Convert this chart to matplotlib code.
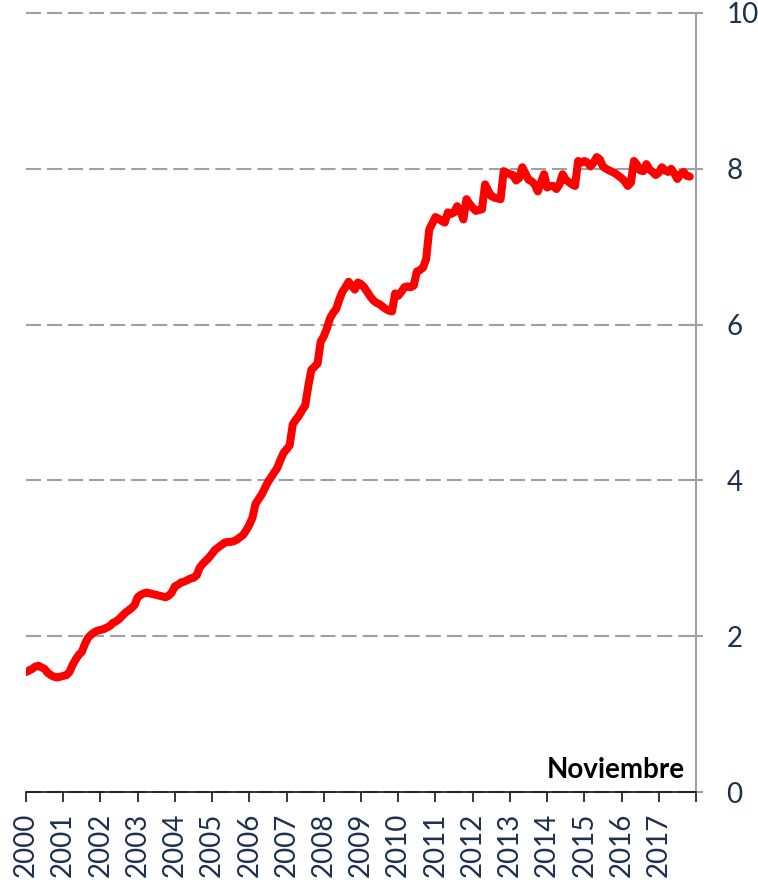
import matplotlib
matplotlib.use('Agg')
import matplotlib.pyplot as plt
import numpy as np

plt.rcParams['font.family'] = ['Lato', 'DejaVu Sans']

# monthly values, Jan 2000 - Nov 2017
v2000 = [1.54, 1.56, 1.58, 1.61, 1.62, 1.60, 1.58, 1.53, 1.50, 1.48, 1.47, 1.48]
v2001 = [1.49, 1.50, 1.54, 1.63, 1.70, 1.76, 1.80, 1.90, 1.98, 2.02, 2.05, 2.07]
v2002 = [2.08, 2.09, 2.11, 2.13, 2.17, 2.19, 2.22, 2.26, 2.30, 2.33, 2.36, 2.40]
v2003 = [2.50, 2.53, 2.55, 2.56, 2.55, 2.54, 2.53, 2.52, 2.51, 2.50, 2.52, 2.56]
v2004 = [2.64, 2.66, 2.69, 2.70, 2.72, 2.74, 2.75, 2.78, 2.88, 2.93, 2.97, 3.01]
v2005 = [3.06, 3.11, 3.14, 3.17, 3.20, 3.21, 3.21, 3.22, 3.24, 3.27, 3.30, 3.36]
v2006 = [3.43, 3.52, 3.70, 3.76, 3.82, 3.90, 3.98, 4.04, 4.10, 4.16, 4.26, 4.35]
v2007 = [4.40, 4.45, 4.72, 4.78, 4.83, 4.90, 4.96, 5.21, 5.42, 5.46, 5.50, 5.78]
v2008 = [5.85, 5.95, 6.08, 6.15, 6.20, 6.32, 6.42, 6.48, 6.55, 6.50, 6.45, 6.54]
v2009 = [6.52, 6.48, 6.42, 6.36, 6.31, 6.28, 6.26, 6.23, 6.20, 6.18, 6.17, 6.40]
v2010 = [6.37, 6.42, 6.48, 6.49, 6.48, 6.50, 6.68, 6.70, 6.73, 6.84, 7.22, 7.30]
v2011 = [7.38, 7.36, 7.33, 7.31, 7.44, 7.42, 7.44, 7.52, 7.46, 7.35, 7.61, 7.55]
v2012 = [7.50, 7.46, 7.47, 7.48, 7.80, 7.72, 7.65, 7.63, 7.62, 7.61, 7.97, 7.95]
v2013 = [7.93, 7.92, 7.85, 7.88, 8.02, 7.94, 7.86, 7.84, 7.80, 7.71, 7.82, 7.93]
v2014 = [7.76, 7.78, 7.78, 7.74, 7.80, 7.93, 7.86, 7.83, 7.80, 7.78, 8.10, 8.08]
v2015 = [8.10, 8.08, 8.03, 8.08, 8.15, 8.12, 8.03, 8.00, 7.98, 7.96, 7.94, 7.91]
v2016 = [7.88, 7.84, 7.78, 7.82, 8.10, 8.05, 7.98, 7.97, 8.06, 7.99, 7.96, 7.92]
v2017 = [7.95, 8.02, 7.98, 7.96, 8.00, 7.94, 7.87, 7.93, 7.96, 7.91, 7.90]

values = (v2000 + v2001 + v2002 + v2003 + v2004 + v2005 + v2006 + v2007 + v2008
          + v2009 + v2010 + v2011 + v2012 + v2013 + v2014 + v2015 + v2016 + v2017)
months = np.arange(len(values))

years = [str(y) for y in range(2000, 2018)]
y_ticks = [0, 2, 4, 6, 8, 10]

navy = '#1F2F4F'
grey = '#A0A0A0'

fig = plt.figure(figsize=(7.58, 8.8), dpi=100)
ax = fig.add_axes([26 / 758, 0.1, 670 / 758, 779 / 880])

ax.plot(months, values, color='#FF0000', lw=5.8, solid_capstyle='round',
        solid_joinstyle='round', zorder=3)

ax.set_xlim(0, 216)
ax.set_ylim(0, 10)

# x axis: year ticks
ax.set_xticks(np.arange(0, 217, 12))
ax.set_xticklabels(years + [''], rotation=90, fontsize=20, color=navy)
ax.tick_params(axis='x', direction='out', length=7, width=1.1, color='black', pad=8)

# y axis on the right
ax.yaxis.tick_right()
ax.set_yticks(y_ticks)
ax.set_yticklabels([str(t) for t in y_ticks], fontsize=20, color=navy)
ax.tick_params(axis='y', direction='inout', length=10, width=1.5, color=grey, pad=17)

ax.spines['top'].set_visible(False)
ax.spines['left'].set_visible(False)
ax.spines['right'].set_color(grey)
ax.spines['right'].set_linewidth(1.5)
ax.spines['bottom'].set_color('black')
ax.spines['bottom'].set_linewidth(1.1)
ax.spines['bottom'].set_zorder(4)

ax.yaxis.grid(True, color=grey, lw=1.5, linestyle=(0, (7.2, 2.9)))
for gl in ax.get_ygridlines():
    gl.set_clip_on(False)
ax.set_axisbelow(True)

ax.text(0.984, 0.018, 'Noviembre', transform=ax.transAxes, ha='right', va='baseline',
        fontsize=20, fontweight='bold', color='black')

fig.savefig('out.png', dpi=100)
